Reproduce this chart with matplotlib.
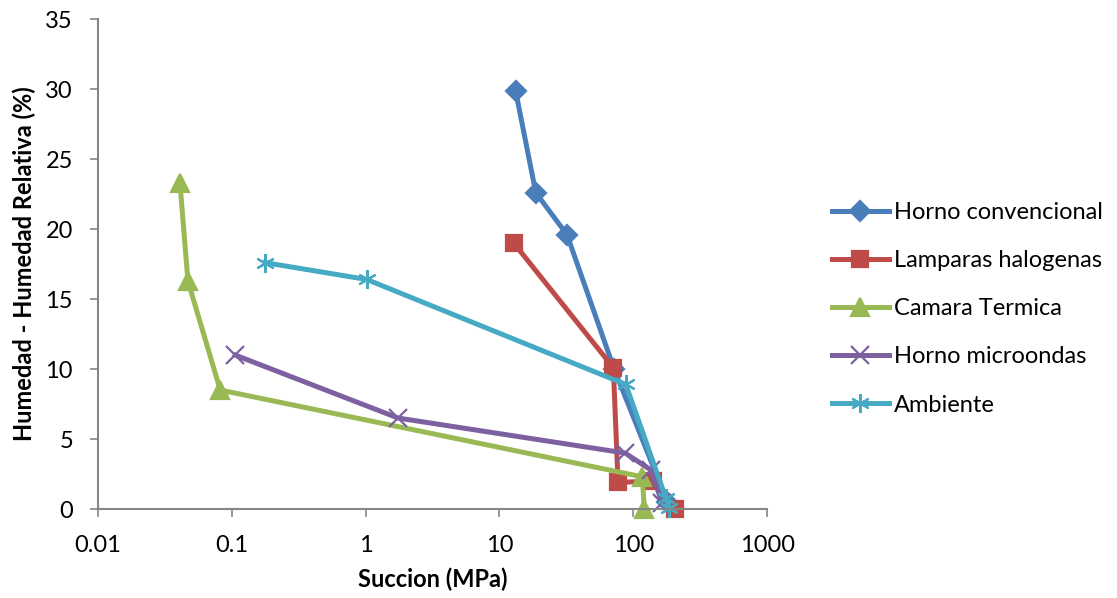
import matplotlib.pyplot as plt
from matplotlib.ticker import FixedLocator, FixedFormatter

plt.rcParams['font.family'] = ['Lato', 'DejaVu Sans']

# Succion (MPa) vs humedad (%) for each drying method
horno_x = [13.2, 18.7, 32, 72, 180]
horno_y = [29.9, 22.6, 19.6, 10.0, 0.5]

lamparas_x = [12.8, 71, 77, 140, 205]
lamparas_y = [19.0, 10.1, 1.9, 2.0, 0.0]

camara_x = [0.041, 0.047, 0.082, 117, 121]
camara_y = [23.3, 16.3, 8.5, 2.3, 0.0]

micro_x = [0.106, 1.75, 87, 135, 165]
micro_y = [11.0, 6.5, 4.0, 2.8, 0.4]

ambiente_x = [0.178, 1.02, 88, 175, 185]
ambiente_y = [17.6, 16.4, 8.9, 0.8, 0.1]

series = [
    ('Horno convencional', horno_x, horno_y, '#4a7ebb', 'D', 10.5),
    ('Lamparas halogenas', lamparas_x, lamparas_y, '#be4b48', 's', 11.5),
    ('Camara Termica', camara_x, camara_y, '#98b954', '^', 12.5),
    ('Horno microondas', micro_x, micro_y, '#7d60a0', 'x', 12.5),
    ('Ambiente', ambiente_x, ambiente_y, '#46aac5', (6, 2, 0), 13.5),
]

x_ticks = [0.01, 0.1, 1, 10, 100, 1000]
x_labels = ['0.01', '0.1', '1', '10', '100', '1000']
y_ticks = [0, 5, 10, 15, 20, 25, 30, 35]

fig = plt.figure(figsize=(11.17, 5.98), dpi=100)
ax = fig.add_axes([0.0877, 0.1488, 0.599, 0.8192])

for label, xs, ys, color, marker, size in series:
    ax.plot(xs, ys, color=color, lw=3.6, marker=marker, markersize=size,
            markeredgewidth=1.6, markerfacecolor=color, markeredgecolor=color,
            label=label, solid_joinstyle='round', clip_on=False)

ax.set_xscale('log')
ax.set_xlim(0.01, 1000)
ax.set_ylim(0, 35)
ax.xaxis.set_major_locator(FixedLocator(x_ticks))
ax.xaxis.set_major_formatter(FixedFormatter(x_labels))
ax.xaxis.set_minor_locator(FixedLocator([]))
ax.set_yticks(y_ticks)

for side in ['top', 'right']:
    ax.spines[side].set_visible(False)
for side in ['left', 'bottom']:
    ax.spines[side].set_color('#868686')
    ax.spines[side].set_linewidth(1.5)
ax.tick_params(axis='both', direction='out', length=6, width=1.2,
               color='#868686', labelsize=17)
ax.tick_params(axis='x', pad=13)
ax.tick_params(axis='y', pad=12)

ax.set_xlabel('Succion (MPa)', fontsize=17, fontweight='bold', labelpad=8)
ax.set_ylabel('Humedad - Humedad Relativa (%)', fontsize=17, fontweight='bold', labelpad=7)

fig.legend(loc='upper left', bbox_to_anchor=(0.7365, 0.678), frameon=False,
           fontsize=17, handlelength=2.4, labelspacing=1.15, handletextpad=0.2,
           borderaxespad=0)

fig.savefig('out.png', dpi=100)
